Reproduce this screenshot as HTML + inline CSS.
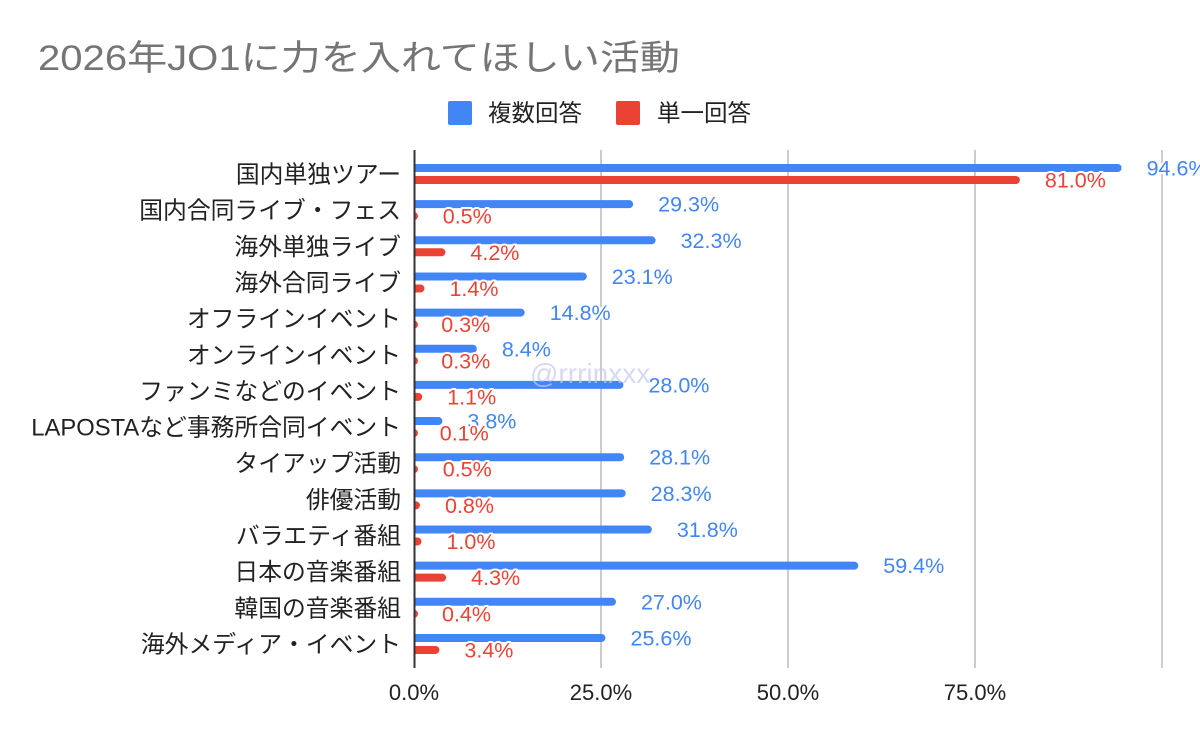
<!DOCTYPE html>
<html><head><meta charset="utf-8"><style>
html,body{margin:0;padding:0;background:#fff;}
svg text{font-family:"Liberation Sans","Noto Sans CJK JP",sans-serif;}
.lb{paint-order:stroke;stroke:#fff;stroke-width:4px;stroke-linejoin:round;font-size:21.5px;}
</style></head><body>
<svg width="1200" height="742" xmlns="http://www.w3.org/2000/svg">
<text x="38" y="70" font-size="35" fill="#757575" textLength="642" lengthAdjust="spacingAndGlyphs">2026年JO1に力を入れてほしい活動</text>
<rect x="448" y="101" width="24" height="24" rx="2" fill="#4285f4"/>
<text x="488" y="121" font-size="23.5" fill="#222">複数回答</text>
<rect x="616" y="101" width="24" height="24" rx="2" fill="#ea4335"/>
<text x="657" y="121" font-size="23.5" fill="#222">単一回答</text>
<g stroke="#cccccc" stroke-width="2">
<line x1="601" y1="150" x2="601" y2="668"/><line x1="788" y1="150" x2="788" y2="668"/><line x1="975" y1="150" x2="975" y2="668"/><line x1="1162" y1="150" x2="1162" y2="668"/>
</g>
<g font-size="22" fill="#222" text-anchor="middle">
<text x="414" y="700">0.0%</text><text x="601" y="700">25.0%</text><text x="788" y="700">50.0%</text><text x="975" y="700">75.0%</text>
</g>
<g id="rows"></g>
<line x1="414.5" y1="150" x2="414.5" y2="668" stroke="#333" stroke-width="2"/>
<text x="530" y="383" font-size="28" fill="#c8c8f0" fill-opacity="0.7">@rrrinxxx</text>
</svg>
<script>
var d=[["国内単独ツアー",94.6,81.0],["国内合同ライブ・フェス",29.3,0.5],["海外単独ライブ",32.3,4.2],["海外合同ライブ",23.1,1.4],["オフラインイベント",14.8,0.3],["オンラインイベント",8.4,0.3],["ファンミなどのイベント",28.0,1.1],["LAPOSTAなど事務所合同イベント",3.8,0.1],["タイアップ活動",28.1,0.5],["俳優活動",28.3,0.8],["バラエティ番組",31.8,1.0],["日本の音楽番組",59.4,4.3],["韓国の音楽番組",27.0,0.4],["海外メディア・イベント",25.6,3.4]];
var g=document.getElementById("rows"),s="",S=7.48,X=414;
d.forEach(function(r,i){var t=164+36.15*i;
s+='<text x="401" y="'+(t+18.5)+'" font-size="23.8" fill="#222" text-anchor="end">'+r[0]+'</text>';
var wb=r[1]*S,wr=Math.max(r[2]*S,3);
s+='<path d="M'+X+' '+t+'h'+(wb-4)+'a4 4 0 0 1 0 8h-'+(wb-4)+'z" fill="#4285f4"/>';
s+='<path d="M'+X+' '+(t+12)+'h'+Math.max(wr-4,0)+'a4 4 0 0 1 0 8h-'+Math.max(wr-4,0)+'z" fill="#ea4335"/>';
});
d.forEach(function(r,i){var t=164+36.15*i;
s+='<text class="lb" x="'+(X+r[1]*S+25)+'" y="'+(t+11.5)+'" fill="#4285f4">'+r[1].toFixed(1)+'%</text>';
s+='<text class="lb" x="'+(X+r[2]*S+25)+'" y="'+(t+23.5)+'" fill="#ea4335">'+r[2].toFixed(1)+'%</text>';
});
g.innerHTML=s;
</script>
</body></html>
